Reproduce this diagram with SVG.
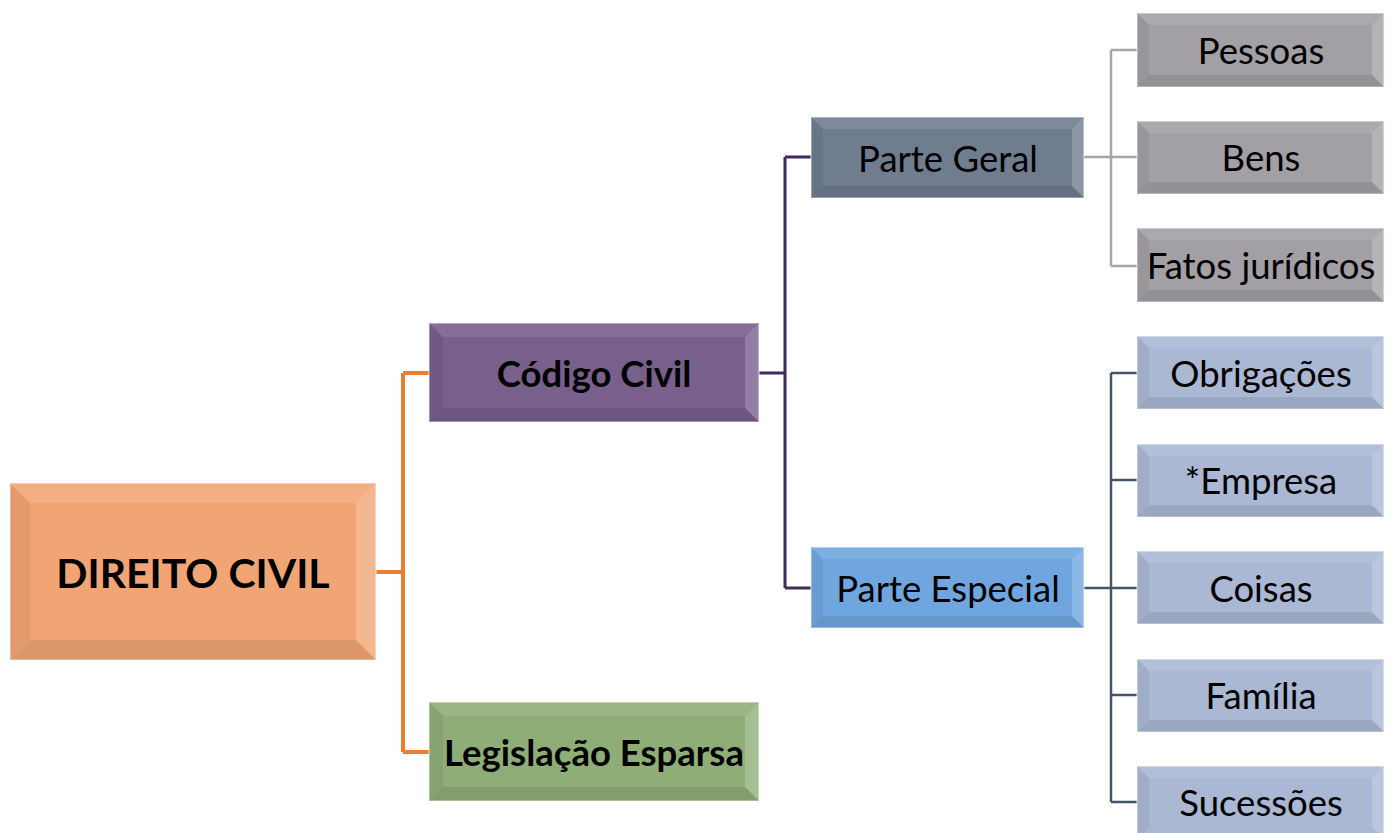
<svg xmlns="http://www.w3.org/2000/svg" width="1392" height="833" viewBox="0 0 1392 833">
<style>
.t{font-family:Lato,"Open Sans",sans-serif;font-size:36.5px;fill:#000;text-anchor:middle;dominant-baseline:central}
.b{font-weight:bold}
.big{font-size:41px}
.hl{fill:#fff;fill-opacity:.1}
.hr{fill:#fff;fill-opacity:.2}
.dl{fill:#000;fill-opacity:.06}
.db{fill:#000;fill-opacity:.09}
.edge{stroke-opacity:.4;stroke:#fff;stroke-width:2}
.c{fill:none}
</style>
<rect width="1392" height="833" fill="#fff"/>
<g id="connectors" class="c">
<path d="M376 572H403M403 373V752M403 373H429M403 752H429" stroke="#ED7D31" stroke-width="4"/>
<path d="M759 373H785M785 157V588M785 157H811M785 588H811" stroke="#3F2A5C" stroke-width="3"/>
<path d="M1084 157H1111M1111 50V266M1111 50H1137M1111 157H1137M1111 266H1137" stroke="#A5A5AC" stroke-width="2.5"/>
<path d="M1084 588H1111M1111 373V802M1111 373H1137M1111 480H1137M1111 588H1137M1111 695H1137M1111 802H1137" stroke="#44546A" stroke-width="2.5"/>
</g>
<g id="direito">
<rect x="10" y="483" width="366" height="177" fill="#F2A574" class="edge"/>
<polygon class="hl" points="10,483 376,483 356,503 30,503"/>
<polygon class="dl" points="10,483 30,503 30,640 10,660"/>
<polygon class="hr" points="376,483 376,660 356,640 356,503"/>
<polygon class="db" points="10,660 376,660 356,640 30,640"/>
<text class="t b big" x="193" y="572">DIREITO CIVIL</text>
</g>
<g id="codigo">
<rect x="429" y="323" width="330" height="99" fill="#785F8C" class="edge"/>
<polygon class="hl" points="429,323 759,323 745,337 443,337"/>
<polygon class="dl" points="429,323 443,337 443,408 429,422"/>
<polygon class="hr" points="759,323 759,422 745,408 745,337"/>
<polygon class="db" points="429,422 759,422 745,408 443,408"/>
<text class="t b" x="594" y="373">Código Civil</text>
</g>
<g id="legislacao">
<rect x="429" y="702" width="330" height="99" fill="#8FAE77" class="edge"/>
<polygon class="hl" points="429,702 759,702 745,716 443,716"/>
<polygon class="dl" points="429,702 443,716 443,787 429,801"/>
<polygon class="hr" points="759,702 759,801 745,787 745,716"/>
<polygon class="db" points="429,801 759,801 745,787 443,787"/>
<text class="t b" x="594" y="752">Legislação Esparsa</text>
</g>
<g id="parte-geral">
<rect x="811" y="117" width="273" height="81" fill="#6F7D8F" class="edge"/>
<polygon class="hl" points="811,117 1084,117 1072,129 823,129"/>
<polygon class="dl" points="811,117 823,129 823,186 811,198"/>
<polygon class="hr" points="1084,117 1084,198 1072,186 1072,129"/>
<polygon class="db" points="811,198 1084,198 1072,186 823,186"/>
<text class="t" x="948" y="158">Parte Geral</text>
</g>
<g id="parte-especial">
<rect x="811" y="547" width="273" height="81" fill="#6FA6E0" class="edge"/>
<polygon class="hl" points="811,547 1084,547 1072,559 823,559"/>
<polygon class="dl" points="811,547 823,559 823,616 811,628"/>
<polygon class="hr" points="1084,547 1084,628 1072,616 1072,559"/>
<polygon class="db" points="811,628 1084,628 1072,616 823,616"/>
<text class="t" x="948" y="588">Parte Especial</text>
</g>
<g id="pessoas">
<rect x="1137" y="13" width="247" height="74" fill="#A3A0A5" class="edge"/>
<polygon class="hl" points="1137,13 1384,13 1372,25 1149,25"/>
<polygon class="dl" points="1137,13 1149,25 1149,75 1137,87"/>
<polygon class="hr" points="1384,13 1384,87 1372,75 1372,25"/>
<polygon class="db" points="1137,87 1384,87 1372,75 1149,75"/>
<text class="t" x="1261" y="50">Pessoas</text>
</g>
<g id="bens">
<rect x="1137" y="121" width="247" height="73" fill="#A3A0A5" class="edge"/>
<polygon class="hl" points="1137,121 1384,121 1372,133 1149,133"/>
<polygon class="dl" points="1137,121 1149,133 1149,182 1137,194"/>
<polygon class="hr" points="1384,121 1384,194 1372,182 1372,133"/>
<polygon class="db" points="1137,194 1384,194 1372,182 1149,182"/>
<text class="t" x="1261" y="157">Bens</text>
</g>
<g id="fatos">
<rect x="1137" y="228" width="247" height="74" fill="#A3A0A5" class="edge"/>
<polygon class="hl" points="1137,228 1384,228 1372,240 1149,240"/>
<polygon class="dl" points="1137,228 1149,240 1149,290 1137,302"/>
<polygon class="hr" points="1384,228 1384,302 1372,290 1372,240"/>
<polygon class="db" points="1137,302 1384,302 1372,290 1149,290"/>
<text class="t" x="1261" y="265">Fatos jurídicos</text>
</g>
<g id="obrigacoes">
<rect x="1137" y="336" width="247" height="73" fill="#AAB8D4" class="edge"/>
<polygon class="hl" points="1137,336 1384,336 1372,348 1149,348"/>
<polygon class="dl" points="1137,336 1149,348 1149,397 1137,409"/>
<polygon class="hr" points="1384,336 1384,409 1372,397 1372,348"/>
<polygon class="db" points="1137,409 1384,409 1372,397 1149,397"/>
<text class="t" x="1261" y="373">Obrigações</text>
</g>
<g id="empresa">
<rect x="1137" y="444" width="247" height="73" fill="#AAB8D4" class="edge"/>
<polygon class="hl" points="1137,444 1384,444 1372,456 1149,456"/>
<polygon class="dl" points="1137,444 1149,456 1149,505 1137,517"/>
<polygon class="hr" points="1384,444 1384,517 1372,505 1372,456"/>
<polygon class="db" points="1137,517 1384,517 1372,505 1149,505"/>
<text class="t" x="1261" y="480">*Empresa</text>
</g>
<g id="coisas">
<rect x="1137" y="551" width="247" height="73" fill="#AAB8D4" class="edge"/>
<polygon class="hl" points="1137,551 1384,551 1372,563 1149,563"/>
<polygon class="dl" points="1137,551 1149,563 1149,612 1137,624"/>
<polygon class="hr" points="1384,551 1384,624 1372,612 1372,563"/>
<polygon class="db" points="1137,624 1384,624 1372,612 1149,612"/>
<text class="t" x="1261" y="588">Coisas</text>
</g>
<g id="familia">
<rect x="1137" y="659" width="247" height="73" fill="#AAB8D4" class="edge"/>
<polygon class="hl" points="1137,659 1384,659 1372,671 1149,671"/>
<polygon class="dl" points="1137,659 1149,671 1149,720 1137,732"/>
<polygon class="hr" points="1384,659 1384,732 1372,720 1372,671"/>
<polygon class="db" points="1137,732 1384,732 1372,720 1149,720"/>
<text class="t" x="1261" y="695">Família</text>
</g>
<g id="sucessoes">
<rect x="1137" y="766" width="247" height="73" fill="#AAB8D4" class="edge"/>
<polygon class="hl" points="1137,766 1384,766 1372,778 1149,778"/>
<polygon class="dl" points="1137,766 1149,778 1149,827 1137,839"/>
<polygon class="hr" points="1384,766 1384,839 1372,827 1372,778"/>
<text class="t" x="1261" y="802">Sucessões</text>
</g>
</svg>
